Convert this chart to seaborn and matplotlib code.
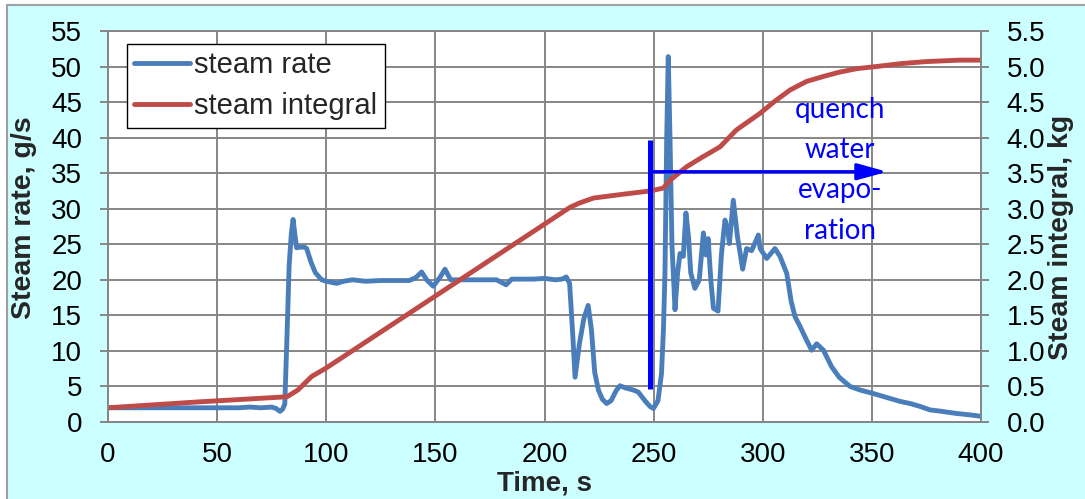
import numpy as np
import pandas as pd
import matplotlib
matplotlib.use("Agg")
import matplotlib.pyplot as plt
from matplotlib.patches import Rectangle
import seaborn as sns

# ---------------- data ----------------
rate_time = [0, 10, 20, 30, 40, 50, 60, 65, 70, 75, 77, 78.8, 80, 81, 82, 83, 84, 84.8,
             85.6, 86.4, 88, 90, 91, 93, 95, 97.9, 100, 104.8, 108, 112, 118, 125, 132,
             138, 141, 143.7, 146, 149, 152, 154.4, 157, 162, 170, 178, 182.4, 185, 190,
             195, 200, 205, 208, 210, 211.5, 213, 214, 216, 218, 220, 221.5, 223, 224.7,
             226.5, 228.5, 230.5, 233, 234.6, 237, 240.7, 243, 246, 248.3, 249.9, 252,
             253.6, 254.5, 255.2, 256, 256.7, 257.5, 258.4, 259.8, 261, 262.1, 263.6,
             264.8, 266, 267, 268.9, 270.9, 272.8, 273.9, 275, 276.2, 277.4, 279.5,
             281.1, 282.7, 284, 284.7, 286.5, 288.4, 290.8, 292.6, 294.9, 298, 298.8,
             301.8, 305.6, 307.9, 311, 313, 314.8, 317, 320.1, 322.4, 324.7, 327.8,
             331.5, 335, 340, 344.6, 350.7, 355.2, 362.9, 367.5, 372, 376.6, 382,
             388.8, 395, 400]
rate_value = [2.0, 2.0, 2.0, 2.0, 2.0, 2.0, 2.0, 2.1, 2.0, 2.1, 1.9, 1.5, 1.8, 2.5, 12, 22,
              26.5, 28.5, 26.5, 24.5, 24.6, 24.6, 24.4, 22.5, 21, 20.0, 19.8, 19.5, 19.8,
              20.0, 19.8, 19.9, 19.9, 19.9, 20.3, 21.1, 20.0, 19.1, 20.3, 21.5, 20.0,
              20.0, 20.0, 20.0, 19.3, 20.1, 20.1, 20.1, 20.2, 20.0, 20.1, 20.4, 19.5, 12,
              6.3, 11, 14.5, 16.4, 13, 7, 4.5, 3.2, 2.6, 3.0, 4.5, 5.1, 4.8, 4.5, 4.2,
              3.0, 2.2, 1.9, 3.0, 6.8, 13, 21, 40, 51.4, 40, 25, 15.8, 21, 23.7, 23.3,
              29.4, 26, 21, 18.8, 20, 26.6, 23.5, 25.8, 20, 16, 15.6, 23.7, 28.4, 27,
              25.1, 31.2, 26.1, 21.5, 24.4, 24.1, 26.3, 24.4, 23, 24.4, 23.3, 20.9, 17,
              14.8, 13.5, 11.5, 10.1, 11, 10.1, 7.8, 6.3, 5.0, 4.5, 4.0, 3.6, 2.9, 2.6,
              2.2, 1.7, 1.5, 1.2, 1.0, 0.8]

integral_time = [0, 40, 82, 87, 93.3, 100, 211.7, 216, 222.4, 235, 248.3, 254.4, 257.5,
                 265.1, 272, 280.4, 288, 298.7, 305, 312.5, 320, 327.7, 335, 343, 352,
                 362.9, 375, 390, 400]
integral_value = [0.20, 0.28, 0.355, 0.45, 0.64, 0.76, 3.02, 3.08, 3.15, 3.20, 3.25, 3.29,
                  3.40, 3.59, 3.72, 3.87, 4.11, 4.34, 4.50, 4.67, 4.79, 4.86, 4.92, 4.97,
                  5.00, 5.04, 5.07, 5.09, 5.09]

x_ticks = [0, 50, 100, 150, 200, 250, 300, 350, 400]
left_ticks = [0, 5, 10, 15, 20, 25, 30, 35, 40, 45, 50, 55]
right_ticks = [0.0, 0.5, 1.0, 1.5, 2.0, 2.5, 3.0, 3.5, 4.0, 4.5, 5.0, 5.5]

marker_time = 248.5
marker_low, marker_high = 4.7, 39.7          # steam rate units
arrow_start, arrow_end, arrow_level = 249.0, 357.0, 35.2
note_text = "quench\nwater\nevapo-\nration"
note_time, note_level = 335.5, 35.4

# ---------------- style ----------------
sns.set_style("white")
plt.rcParams["font.family"] = ["Liberation Sans", "DejaVu Sans"]

BLUE = "#4a7ebb"
RED = "#be4b48"
GRID = "#868686"
BG = "#ccffff"

df_rate = pd.DataFrame({"time": rate_time, "rate": rate_value})
df_int = pd.DataFrame({"time": integral_time, "integral": integral_value})

fig = plt.figure(figsize=(10.85, 4.99), dpi=100)
fig.patch.set_facecolor("white")
fig.patches.append(Rectangle((7 / 1085, -0.1), 1.2, 494 / 499 + 0.1,
                             transform=fig.transFigure, facecolor=BG,
                             edgecolor="#a0a0a0", lw=1.5, zorder=-10))

ax = fig.add_axes([108 / 1085, 77 / 499, 873 / 1085, 391 / 499])
ax.set_facecolor("white")
ax2 = ax.twinx()

sns.lineplot(data=df_rate, x="time", y="rate", ax=ax, color=BLUE, lw=3.5,
             estimator=None, sort=False, label="steam rate", legend=False,
             solid_capstyle="round", solid_joinstyle="round")
sns.lineplot(data=df_int, x="time", y="integral", ax=ax2, color=RED, lw=3.5,
             estimator=None, sort=False, label="steam integral", legend=False,
             solid_capstyle="round", solid_joinstyle="round")

ax.set_xlim(0, 400)
ax.set_ylim(0, 55)
ax2.set_ylim(0, 5.5)
ax.set_xticks(x_ticks)
ax.set_yticks(left_ticks)
ax2.set_yticks(right_ticks)
ax2.set_yticklabels([f"{v:.1f}" for v in right_ticks])

ax.grid(True, color=GRID, lw=1.4)
ax.set_axisbelow(True)
ax2.grid(False)

for a in (ax, ax2):
    for s in a.spines.values():
        s.set_color(GRID)
        s.set_linewidth(1.4)
ax.tick_params(axis="both", direction="out", length=6, width=1.4, color=GRID,
               labelsize=20, labelcolor="black")
ax.tick_params(axis="x", pad=8.5)
ax.tick_params(axis="y", pad=12.5)
ax2.tick_params(axis="y", direction="out", length=6, width=1.4, color=GRID,
                labelsize=20, labelcolor="black", pad=12.5)

ax.set_xlabel("Time, s", fontsize=20, fontweight="bold", labelpad=2)
ax.set_ylabel("Steam rate, g/s", fontsize=20.5, fontweight="bold")
ax2.set_ylabel("Steam integral, kg", fontsize=20.5, fontweight="bold", rotation=90)
ax.yaxis.set_label_coords(-0.0813, 0.522)
ax2.yaxis.set_label_coords(1.0767, 0.473)

# annotation: vertical marker and arrow
scale = 0.1  # steam rate -> integral units on twin axis
ax2.plot([marker_time, marker_time], [marker_low * scale, marker_high * scale],
         color="#0000ff", lw=3.6, solid_capstyle="butt", zorder=5)
ax2.annotate("", xy=(arrow_end, arrow_level * scale), xytext=(arrow_start, arrow_level * scale),
             arrowprops=dict(arrowstyle="-|>,head_length=1.8,head_width=0.5",
                             mutation_scale=10, color="#0000ff", lw=2.4,
                             shrinkA=0, shrinkB=0), zorder=5)
ax2.text(note_time, note_level * scale, note_text, color="#0000ff", fontsize=20,
         family=["Lato", "DejaVu Sans"], ha="center", va="center",
         multialignment="center", linespacing=1.68, zorder=6)

h1, l1 = ax.get_legend_handles_labels()
h2, l2 = ax2.get_legend_handles_labels()
leg = ax2.legend(h1 + h2, l1 + l2, loc="upper left", bbox_to_anchor=(0.0218, 0.967),
                 borderaxespad=0, fontsize=21, frameon=True, fancybox=False,
                 framealpha=1, edgecolor="black", borderpad=0.25, labelspacing=0.45,
                 handlelength=1.9, handletextpad=0.15)
leg.get_frame().set_linewidth(1.0)
leg.set_zorder(10)

fig.savefig("out.png", dpi=100, facecolor=fig.get_facecolor())
